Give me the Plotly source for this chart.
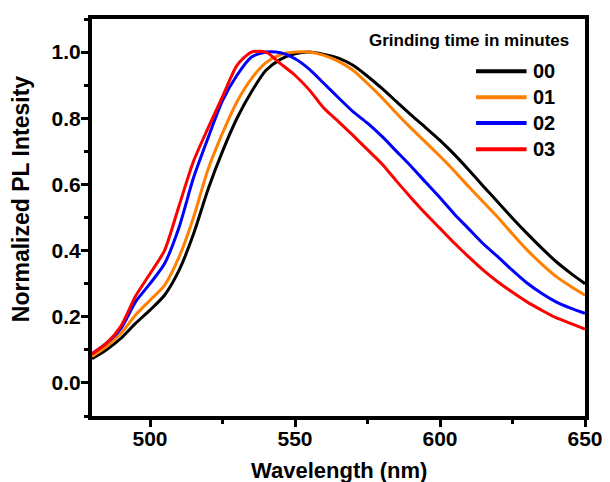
import plotly.graph_objects as go

wavelength = [480, 485, 490, 495, 500, 505, 510, 515, 520, 525, 530, 535, 540, 545,
              550, 555, 560, 565, 570, 575, 580, 585, 590, 595, 600, 605, 610, 615,
              620, 625, 630, 635, 640, 645, 650]

pl_00 = [0.073, 0.100, 0.135, 0.180, 0.220, 0.265, 0.340, 0.450, 0.585, 0.700, 0.800, 0.880,
         0.945, 0.978, 0.995, 1.000, 0.993, 0.982, 0.960, 0.927, 0.890, 0.850, 0.810, 0.772,
         0.733, 0.690, 0.643, 0.594, 0.546, 0.498, 0.452, 0.408, 0.367, 0.332, 0.300]
pl_01 = [0.080, 0.110, 0.150, 0.205, 0.250, 0.295, 0.380, 0.500, 0.645, 0.755, 0.850, 0.920,
         0.968, 0.992, 1.000, 1.000, 0.990, 0.972, 0.945, 0.905, 0.862, 0.815, 0.770, 0.728,
         0.685, 0.640, 0.592, 0.546, 0.500, 0.450, 0.402, 0.360, 0.322, 0.292, 0.265]
pl_02 = [0.088, 0.120, 0.165, 0.245, 0.300, 0.360, 0.470, 0.620, 0.740, 0.853, 0.930, 0.985,
         1.000, 0.998, 0.980, 0.948, 0.905, 0.862, 0.820, 0.785, 0.745, 0.700, 0.655, 0.607,
         0.560, 0.510, 0.465, 0.420, 0.381, 0.340, 0.302, 0.271, 0.245, 0.226, 0.210]
pl_03 = [0.088, 0.120, 0.172, 0.262, 0.330, 0.400, 0.535, 0.670, 0.770, 0.865, 0.960, 1.000,
         1.000, 0.965, 0.930, 0.885, 0.830, 0.790, 0.748, 0.705, 0.662, 0.610, 0.560, 0.512,
         0.467, 0.422, 0.380, 0.340, 0.305, 0.274, 0.245, 0.220, 0.197, 0.180, 0.163]

series_names = ["00", "01", "02", "03"]
series_values = [pl_00, pl_01, pl_02, pl_03]
series_colors = ["#000000", "#FF8000", "#0000FF", "#FF0000"]

x_tick_vals = [500, 550, 600, 650]
y_tick_vals = [0.0, 0.2, 0.4, 0.6, 0.8, 1.0]
y_tick_text = ["0.0", "0.2", "0.4", "0.6", "0.8", "1.0"]

legend_title = "Grinding time in minutes"
x_title = "Wavelength (nm)"
y_title = "Normalized PL Intesity"

FONT = "Liberation Sans, Arial, sans-serif"

fig = go.Figure()
for name, vals, col in zip(series_names, series_values, series_colors):
    fig.add_trace(go.Scatter(x=wavelength, y=vals, mode="lines", name=name,
                             line=dict(color=col, width=3, shape="spline", smoothing=0.7),
                             showlegend=False))

axis_common = dict(showline=True, linecolor="black", linewidth=4, mirror=True,
                   ticks="outside", ticklen=7, tickwidth=3, tickcolor="black",
                   showgrid=False, zeroline=False,
                   tickfont=dict(family=FONT, size=21, color="black", weight="bold"))

fig.update_xaxes(range=[480, 650], tickvals=x_tick_vals, ticklabelstandoff=-6,
                 minor=dict(ticks="outside", ticklen=4, tickwidth=3, tickcolor="black", dtick=25, tick0=475),
                 **axis_common)
fig.update_yaxes(range=[-0.1, 1.1], tickvals=y_tick_vals, ticktext=y_tick_text, ticklabelstandoff=-4,
                 minor=dict(ticks="outside", ticklen=4, tickwidth=3, tickcolor="black", dtick=0.1, tick0=0),
                 **axis_common)

# axis titles
fig.add_annotation(xref="paper", yref="paper", x=0.5, y=-0.137, text="<b>%s</b>" % x_title,
                   showarrow=False, xanchor="center", yanchor="middle",
                   font=dict(family=FONT, size=22, color="black"))
fig.add_annotation(xref="paper", yref="paper", x=-0.145, y=0.545, text="<b>%s</b>" % y_title,
                   showarrow=False, xanchor="center", yanchor="middle", textangle=-90,
                   font=dict(family=FONT, size=23, color="black"))

# custom legend
legend_y = [0.8686, 0.803, 0.738, 0.6716]
for name, col, yy in zip(series_names, series_colors, legend_y):
    fig.add_shape(type="line", xref="paper", yref="paper", x0=0.779, x1=0.8815, y0=yy, y1=yy,
                  line=dict(color=col, width=4))
    fig.add_annotation(xref="paper", yref="paper", x=0.8896, y=yy, text="<b>%s</b>" % name,
                       showarrow=False, xanchor="left", yanchor="middle",
                       font=dict(family=FONT, size=20, color="black"))
fig.add_annotation(xref="paper", yref="paper", x=0.764, y=0.945, text="<b>%s</b>" % legend_title,
                   showarrow=False, xanchor="center", yanchor="middle",
                   font=dict(family=FONT, size=17, color="black"))

fig.update_layout(width=602, height=474, margin=dict(l=84, r=20, t=7, b=66),
                  plot_bgcolor="white", paper_bgcolor="white")

fig.write_html("out.html")
